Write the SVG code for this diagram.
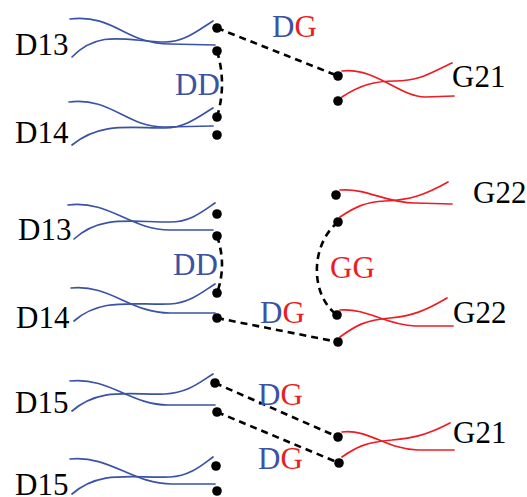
<svg xmlns="http://www.w3.org/2000/svg" width="527" height="497" viewBox="0 0 527 497">
  <style>
    .lbl { font-family: "Liberation Serif", "Times New Roman", serif; font-size: 31px; fill: #000; }
    .b { fill: #3A53A4; }
    .r { fill: #ED1C24; }
    .wb { fill: none; stroke: #3A53A4; stroke-width: 1.7; stroke-linecap: round; }
    .wr { fill: none; stroke: #ED1C24; stroke-width: 1.7; stroke-linecap: round; }
    .dash { fill: none; stroke: #000; stroke-width: 2.6; stroke-dasharray: 7 5; }
    .dot { fill: #000; }
  </style>
  <rect width="527" height="497" fill="#fff"/>

  <!-- bond connectors and their labels -->
  <g id="connectors">
    <path class="dash" d="M217,28 L338,76"/>
    <path class="dash" d="M217,51 Q227,84 217,117"/>
    <path class="dash" d="M217,236 Q227,265 217,293"/>
    <path class="dash" d="M338,222 C310,245 310,295 337,315"/>
    <path class="dash" d="M217,318 L338,342"/>
    <path class="dash" d="M215,383 L338,437"/>
    <path class="dash" d="M217,412 L339,463"/>
    <text class="lbl" x="272" y="37"><tspan class="b">D</tspan><tspan class="r">G</tspan></text>
    <text class="lbl b" x="175" y="95">DD</text>
    <text class="lbl b" x="173" y="275">DD</text>
    <text class="lbl r" x="330" y="278">GG</text>
    <text class="lbl" x="260" y="323"><tspan class="b">D</tspan><tspan class="r">G</tspan></text>
    <text class="lbl" x="258" y="405"><tspan class="b">D</tspan><tspan class="r">G</tspan></text>
    <text class="lbl" x="258" y="469"><tspan class="b">D</tspan><tspan class="r">G</tspan></text>
  </g>

  <!-- D strands (blue) -->
  <g id="d13-top">
    <path class="wb" d="M70,19 C115,14 125,44 170,44 L215,45"/>
    <path class="wb" d="M72,57 C100,28 130,42 165,42 C185,42 200,29 213,21"/>
    <circle class="dot" cx="217" cy="28" r="4.8"/>
    <circle class="dot" cx="217" cy="51" r="4.8"/>
    <text class="lbl" x="15" y="55">D13</text>
  </g>
  <g id="d14-top">
    <path class="wb" d="M69,102 C112,97 125,127 165,127 L213,126"/>
    <path class="wb" d="M72,145 C100,122 130,128 165,128 C185,128 200,116 213,108"/>
    <circle class="dot" cx="217" cy="117" r="4.8"/>
    <circle class="dot" cx="217" cy="135" r="4.8"/>
    <text class="lbl" x="15" y="143">D14</text>
  </g>
  <g id="d13-mid">
    <path class="wb" d="M68,205 C110,200 130,230 170,230 L213,230"/>
    <path class="wb" d="M74,239 C100,215 130,222 170,222 C190,222 202,212 215,203"/>
    <circle class="dot" cx="217" cy="214" r="4.8"/>
    <circle class="dot" cx="217" cy="236" r="4.8"/>
    <text class="lbl" x="18" y="240">D13</text>
  </g>
  <g id="d14-mid">
    <path class="wb" d="M71,288 C110,284 130,313 170,313 L215,313"/>
    <path class="wb" d="M74,321 C100,298 130,305 170,304 C190,303 202,292 215,284"/>
    <circle class="dot" cx="217" cy="293" r="4.8"/>
    <circle class="dot" cx="217" cy="318" r="4.8"/>
    <text class="lbl" x="16" y="328">D14</text>
  </g>
  <g id="d15-a">
    <path class="wb" d="M70,381 C110,377 130,405 168,405 L215,405"/>
    <path class="wb" d="M72,411 C100,387 130,395 165,394 C188,393 200,382 213,374"/>
    <circle class="dot" cx="215" cy="383" r="4.8"/>
    <circle class="dot" cx="217" cy="412" r="4.8"/>
    <text class="lbl" x="15" y="413">D15</text>
  </g>
  <g id="d15-b">
    <path class="wb" d="M70,459 C110,455 132,484 172,484 L215,484"/>
    <path class="wb" d="M72,494 C100,470 130,478 170,477 C190,476 202,465 213,457"/>
    <circle class="dot" cx="216" cy="466" r="4.8"/>
    <circle class="dot" cx="217" cy="491" r="4.8"/>
    <text class="lbl" x="15" y="495">D15</text>
  </g>

  <!-- G strands (red) -->
  <g id="g21-top">
    <path class="wr" d="M342,71 C375,67 400,97 425,97 L454,96"/>
    <path class="wr" d="M342,97 C360,85 375,81 395,81 C420,81 430,73 452,63"/>
    <circle class="dot" cx="338" cy="76" r="4.8"/>
    <circle class="dot" cx="338" cy="101" r="4.8"/>
    <text class="lbl" x="452" y="87">G21</text>
  </g>
  <g id="g22-a">
    <path class="wr" d="M340,190 C368,188 385,203 415,203 L452,204"/>
    <path class="wr" d="M340,217 C355,207 365,202 385,201 C410,200 425,195 448,182"/>
    <circle class="dot" cx="336" cy="195" r="4.8"/>
    <circle class="dot" cx="338" cy="222" r="4.8"/>
    <text class="lbl" x="473" y="203">G22</text>
  </g>
  <g id="g22-b">
    <path class="wr" d="M340,310 C368,308 385,325 415,326 L453,326"/>
    <path class="wr" d="M340,337 C355,326 365,320 390,318 C412,316 425,311 447,298"/>
    <circle class="dot" cx="337" cy="315" r="4.8"/>
    <circle class="dot" cx="338" cy="342" r="4.8"/>
    <text class="lbl" x="453" y="323">G22</text>
  </g>
  <g id="g21-bottom">
    <path class="wr" d="M342,432 C370,429 385,449 418,450 L454,450"/>
    <path class="wr" d="M342,457 C355,448 365,442 392,440 C412,438 425,436 450,423"/>
    <circle class="dot" cx="338" cy="437" r="4.8"/>
    <circle class="dot" cx="339" cy="463" r="4.8"/>
    <text class="lbl" x="453" y="443">G21</text>
  </g>
</svg>
